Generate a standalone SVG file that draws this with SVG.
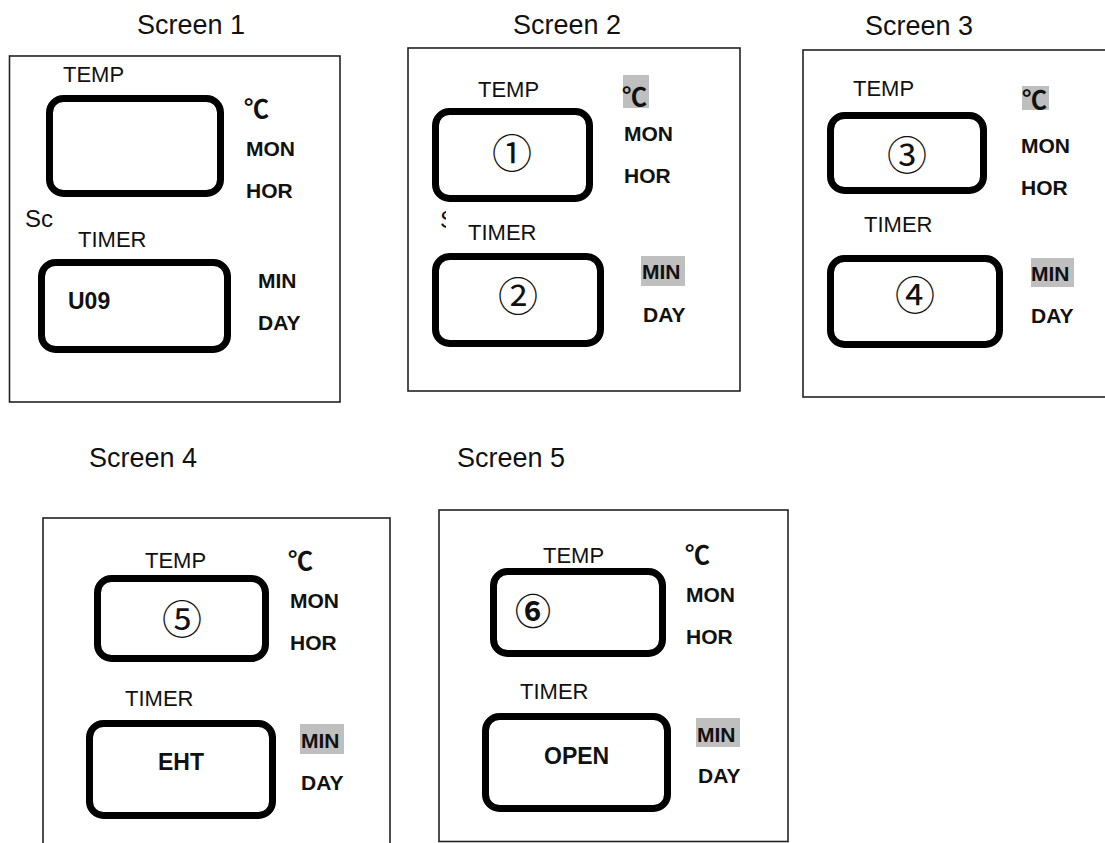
<svg xmlns="http://www.w3.org/2000/svg" width="1105" height="843" viewBox="0 0 1105 843">
<style>
.title{font-family:"Liberation Sans",Arial,sans-serif;font-size:27px;fill:#111}
.lbl{font-family:"Liberation Sans",Arial,sans-serif;font-size:22px;fill:#111}
.b{font-family:"Liberation Sans",Arial,sans-serif;font-size:21px;font-weight:bold;fill:#111}
.big{font-size:23px}
.deg{font-family:"Noto Sans CJK SC","DejaVu Sans",sans-serif;font-size:25px;font-weight:bold;fill:#111}
.num{font-family:"Noto Sans CJK SC","DejaVu Sans",sans-serif;font-size:40px;fill:#111;text-anchor:middle;dominant-baseline:central}
.frame{fill:#fff;stroke:#222;stroke-width:1.6}
.disp{fill:#fff;stroke:#000;stroke-width:7}
.hl{fill:#bfbfbf}
</style>
<defs>
<clipPath id="sclip"><rect x="430" y="200" width="16" height="30"/></clipPath>
</defs>
<rect width="1105" height="843" fill="#fff"/>

<g id="screen1">
<text class="title" x="137" y="34">Screen 1</text>
<rect class="frame" x="9.5" y="56" width="330.5" height="346"/>
<text class="lbl" x="63" y="82">TEMP</text>
<rect class="disp" x="49.5" y="98.5" width="171" height="95" rx="14"/>
<text class="deg" x="244" y="118">℃</text>
<text class="b" x="246" y="156">MON</text>
<text class="b" x="246" y="198">HOR</text>
<text class="lbl" x="25" y="227" style="font-size:24px">Sc</text>
<text class="lbl" x="78" y="247">TIMER</text>
<rect class="disp" x="41.5" y="262.5" width="186" height="87" rx="14"/>
<text class="b big" x="68" y="309">U09</text>
<text class="b" x="258" y="288">MIN</text>
<text class="b" x="258" y="330">DAY</text>
</g>

<g id="screen2">
<text class="title" x="513" y="34">Screen 2</text>
<rect class="frame" x="408" y="48" width="332" height="343"/>
<text class="lbl" x="478" y="97">TEMP</text>
<rect class="disp" x="435.5" y="111.5" width="154" height="87" rx="14"/>
<text class="num" x="512" y="151">①</text>
<rect class="hl" x="623" y="75" width="26" height="33"/>
<text class="deg" x="622" y="106">℃</text>
<text class="b" x="624" y="141">MON</text>
<text class="b" x="624" y="183">HOR</text>
<text class="lbl" x="440" y="228" style="font-size:24px" clip-path="url(#sclip)">S</text>
<text class="lbl" x="468" y="240">TIMER</text>
<rect class="disp" x="435.5" y="256.5" width="165" height="87" rx="14"/>
<text class="num" x="518" y="294">②</text>
<rect class="hl" x="641" y="256" width="44" height="30"/>
<text class="b" x="642" y="279">MIN</text>
<text class="b" x="643" y="322">DAY</text>
</g>

<g id="screen3">
<text class="title" x="865" y="35">Screen 3</text>
<rect class="frame" x="803" y="50" width="310" height="347"/>
<text class="lbl" x="853" y="96">TEMP</text>
<rect class="disp" x="830.5" y="115.5" width="153" height="75" rx="14"/>
<text class="num" x="907" y="153">③</text>
<rect class="hl" x="1022" y="86" width="27" height="24"/>
<text class="deg" x="1022" y="109">℃</text>
<text class="b" x="1021" y="153">MON</text>
<text class="b" x="1021" y="195">HOR</text>
<text class="lbl" x="864" y="232">TIMER</text>
<rect class="disp" x="830.5" y="258.5" width="169" height="86" rx="14"/>
<text class="num" x="915" y="293">④</text>
<rect class="hl" x="1031" y="258" width="43" height="29"/>
<text class="b" x="1031" y="281">MIN</text>
<text class="b" x="1031" y="323">DAY</text>
</g>

<g id="screen4">
<text class="title" x="89" y="467">Screen 4</text>
<rect class="frame" x="43" y="518" width="347" height="340"/>
<text class="lbl" x="145" y="568">TEMP</text>
<rect class="disp" x="97.5" y="578.5" width="168" height="80" rx="14"/>
<text class="num" x="182" y="617">⑤</text>
<text class="deg" x="288" y="570">℃</text>
<text class="b" x="290" y="608">MON</text>
<text class="b" x="290" y="650">HOR</text>
<text class="lbl" x="125" y="706">TIMER</text>
<rect class="disp" x="89.5" y="723.5" width="183" height="92" rx="14"/>
<text class="b big" x="158" y="770">EHT</text>
<rect class="hl" x="300" y="724" width="44" height="30"/>
<text class="b" x="301" y="748">MIN</text>
<text class="b" x="301" y="790">DAY</text>
</g>

<g id="screen5">
<text class="title" x="457" y="467">Screen 5</text>
<rect class="frame" x="439" y="510" width="349" height="331.5"/>
<text class="lbl" x="543" y="563">TEMP</text>
<rect class="disp" x="493.5" y="571.5" width="169" height="82" rx="14"/>
<text class="num" x="533" y="609" style="font-size:36px;font-weight:bold">⑥</text>
<text class="deg" x="685" y="564">℃</text>
<text class="b" x="686" y="602">MON</text>
<text class="b" x="686" y="644">HOR</text>
<text class="lbl" x="520" y="699">TIMER</text>
<rect class="disp" x="485.5" y="716.5" width="182" height="92" rx="14"/>
<text class="b big" x="544" y="764">OPEN</text>
<rect class="hl" x="696" y="718" width="44" height="29"/>
<text class="b" x="697" y="742">MIN</text>
<text class="b" x="698" y="783">DAY</text>
</g>
</svg>
